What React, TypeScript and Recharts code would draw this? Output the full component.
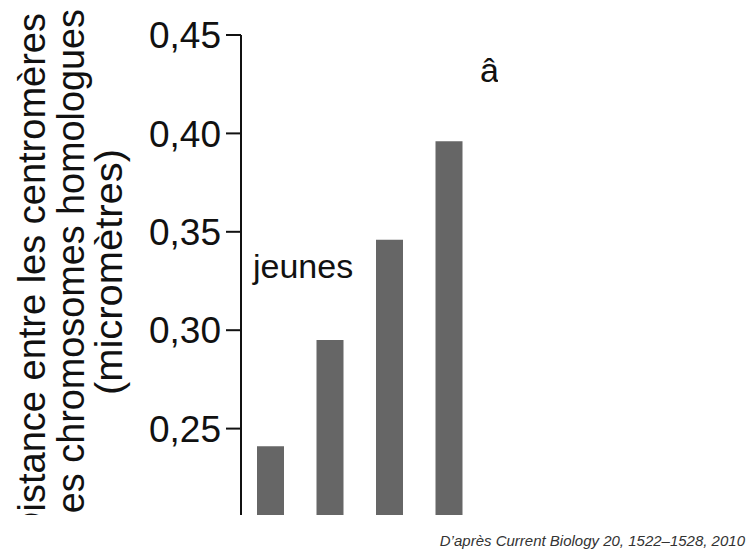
import { BarChart, Bar, XAxis, YAxis } from 'recharts';

// visible bars of the cropped figure (left group, "jeunes")
const categories = ['j1', 'j2', 'j3', 'j4'];
const distances = [0.241, 0.295, 0.346, 0.396];
const yTicks = [0.2, 0.25, 0.3, 0.35, 0.4, 0.45];
const yLabelLines = ['Distance entre les centromères', 'des chromosomes homologues', '(micromètres)'];
const groupLabels = ['jeunes', 'âgées'];
const sourceText = 'D\u2019après Current Biology 20, 1522–1528, 2010';

const FONT = '"Liberation Sans", Arial, Helvetica, sans-serif';

const data = categories.map((c, i) => ({ name: c, value: distances[i] }));

const formatTick = (v: number) => v.toFixed(2).replace('.', ',');

// the figure is cropped on the left and bottom, so the title lines are placed one by one
const labelPos = [
  { x: 45, y: 13, anchor: 'end', sx: 1.0 },
  { x: 84, y: 9, anchor: 'end', sx: 0.995 },
  { x: 122, y: 272, anchor: 'middle', sx: 1.05 },
];

const YLabel = (props: any) => {
  const vb = props.viewBox || { x: 0, y: 35, width: 241, height: 492 };
  return (
    <g>
      {yLabelLines.map((line, i) => {
        const p = labelPos[i];
        return (
          <text
            key={line}
            x={0}
            y={0}
            transform={`translate(${vb.x + p.x}, ${p.y}) rotate(-90) scale(${p.sx}, 1)`}
            textAnchor={p.anchor as any}
            fontSize={38}
            fontFamily={FONT}
            fill="#111"
          >
            {line}
          </text>
        );
      })}
    </g>
  );
};

export default function App() {
  return (
    <div style={{ position: 'absolute', left: 0, top: 0, width: 749, height: 560, background: '#fff', fontFamily: FONT }}>
      <div style={{ position: 'absolute', left: 0, top: 0, width: 498, height: 515, overflow: 'hidden' }}>
        <BarChart width={498} height={540} data={data} margin={{ top: 35, right: 19, bottom: 13, left: 0 }}>
          <XAxis dataKey="name" hide />
          <YAxis
            width={241}
            domain={[0.2, 0.45]}
            ticks={yTicks}
            allowDataOverflow
            tickFormatter={formatTick}
            tickSize={15}
            tickMargin={5}
            tick={{ fontSize: 37, fill: '#111', fontFamily: FONT }}
            axisLine={{ stroke: '#111', strokeWidth: 2 }}
            tickLine={{ stroke: '#111', strokeWidth: 2 }}
            label={<YLabel />}
          />
          <Bar dataKey="value" fill="#666666" barSize={27} isAnimationActive={false} />
        </BarChart>
        <svg width={498} height={515} style={{ position: 'absolute', left: 0, top: 0, pointerEvents: 'none' }}>
          <text x={253} y={278} fontSize={34} fontFamily={FONT} fill="#111">
            {groupLabels[0]}
          </text>
          <text x={480} y={82} fontSize={34} fontFamily={FONT} fill="#111">
            {groupLabels[1]}
          </text>
        </svg>
      </div>
      <svg width={749} height={560} style={{ position: 'absolute', left: 0, top: 0, pointerEvents: 'none' }}>
        <text x={745} y={546} textAnchor="end" fontSize={15} fontStyle="italic" fontFamily={FONT} fill="#333">
          {sourceText}
        </text>
      </svg>
    </div>
  );
}
